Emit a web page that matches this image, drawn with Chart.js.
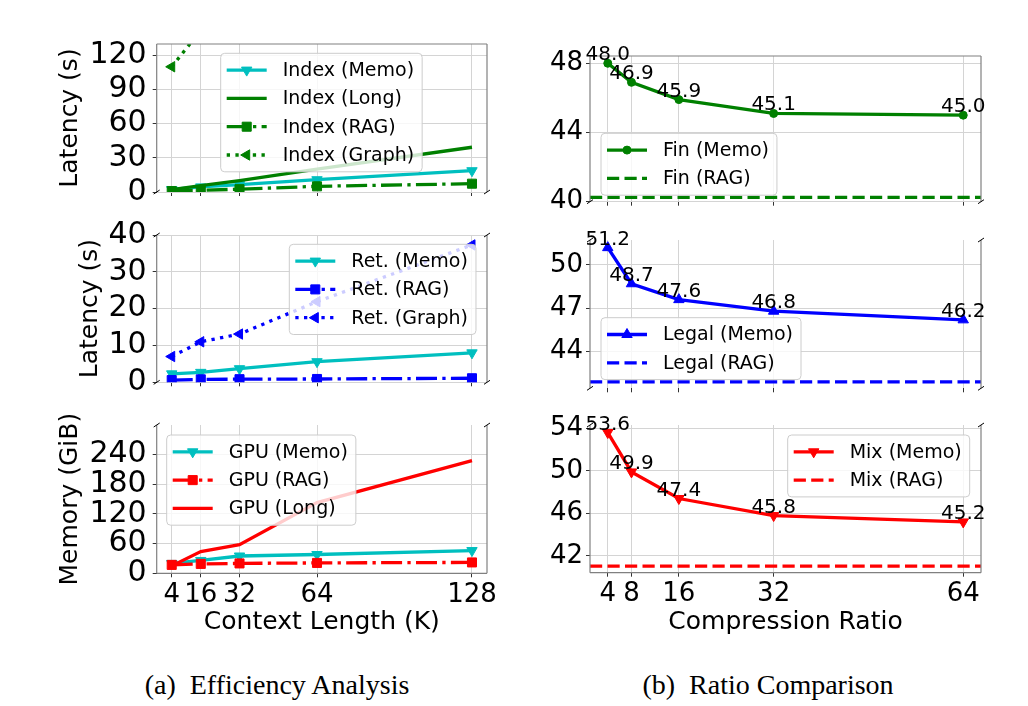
<!DOCTYPE html>
<html>
<head>
<meta charset="utf-8">
<script src="https://cdn.jsdelivr.net/npm/chart.js@4.4.1/dist/chart.umd.min.js"></script>
<style>
  body { margin: 0; background: #fff; width: 1028px; height: 706px; position: relative; overflow: hidden; }
  canvas { position: absolute; }
  .cap { position: absolute; top: 669px; font-family: "Liberation Serif", "DejaVu Serif", serif; font-size: 28px;
         color: #000; white-space: nowrap; transform: translateX(-50%); }
</style>
</head>
<body>
<canvas id="cIndex" width="480" height="190" style="left:40px;top:20px"></canvas>
<canvas id="cRet" width="480" height="185" style="left:40px;top:215px"></canvas>
<canvas id="cGpu" width="480" height="245" style="left:40px;top:405px"></canvas>
<canvas id="cFin" width="508" height="180" style="left:520px;top:30px"></canvas>
<canvas id="cLegal" width="508" height="185" style="left:520px;top:215px"></canvas>
<canvas id="cMix" width="508" height="245" style="left:520px;top:405px"></canvas>
<div class="cap" style="left:277px">(a)&ensp;Efficiency Analysis</div>
<div class="cap" style="left:768px">(b)&ensp;Ratio Comparison</div>

<script>
// ---- data ----
const CONTEXT_K   = [4, 16, 32, 64, 128];
const INDEX_MEMO  = [2.2, 4.5, 6.5, 10.8, 18.7];
const INDEX_LONG  = [2, 5.5, 10, 20, 39.3];
const INDEX_RAG   = [0.8, 1.5, 2.5, 5, 7.3];
const INDEX_GRAPH = [110, 142, 175, 240, 380];

const RET_MEMO  = [2.3, 2.7, 3.7, 5.6, 8.0];
const RET_RAG   = [0.6, 0.8, 0.85, 0.9, 1.1];
const RET_GRAPH = [7.0, 11.0, 13.1, 21.9, 37.3];

const GPU_MEMO = [20, 26, 35, 38, 46];
const GPU_RAG  = [17, 19, 20, 21, 22];
const GPU_LONG = [15, 44, 58, 143, 228];

const RATIO      = [4, 8, 16, 32, 64];
const FIN_MEMO   = [48.0, 46.9, 45.9, 45.1, 45.0];
const FIN_RAG    = 40.25;
const LEGAL_MEMO = [51.2, 48.7, 47.6, 46.8, 46.2];
const LEGAL_RAG  = 41.9;
const MIX_MEMO   = [53.6, 49.9, 47.4, 45.8, 45.2];
const MIX_RAG    = 41.05;

// axis limits and ticks
const X_CTX_LIM   = [-2.2, 134.2];
const X_RATIO_LIM = [1, 67];
const INDEX_YLIM = [0, 130],       INDEX_YTICKS = [0, 30, 60, 90, 120];
const RET_YLIM   = [0, 40],        RET_YTICKS   = [0, 10, 20, 30, 40];
const GPU_YLIM   = [0, 300],       GPU_YTICKS   = [0, 60, 120, 180, 240];
const FIN_YLIM   = [40, 48.42],    FIN_YTICKS   = [40, 44, 48];
const LEGAL_YLIM = [41.46, 51.73], LEGAL_YTICKS = [44, 47, 50];
const MIX_YLIM   = [40.43, 54.31], MIX_YTICKS   = [42, 46, 50, 54];

// ---- styles ----
const CYAN = '#00bfbf', GREEN = '#008000', BLUE = '#0000ff', RED = '#ff0000';
const GRID = '#d4d4d4', SPINE = '#808080', TICK = '#333';
const LW = 3.3;
const DASH = [12.2, 5.3], DASHDOT = [21, 5.3, 3.3, 5.3], DOTTED = [3.3, 5.4];
const FONT = '"DejaVu Sans", sans-serif';

Chart.defaults.font.family = FONT;
Chart.defaults.color = '#000';
Chart.defaults.animation = false;

const xy = (xs, ys) => xs.map((x, i) => ({ x, y: ys[i] }));
const flat = (lim, v) => lim.map(x => ({ x, y: v }));

function series(label, data, color, dash, marker, rot, radius) {
  return {
    label, data, borderColor: color, backgroundColor: color, borderWidth: LW,
    borderDash: dash || [], tension: 0, fill: false,
    pointStyle: marker || 'circle', pointRotation: rot || 0,
    pointRadius: marker ? radius : 0, pointHoverRadius: 0, pointBorderWidth: 1
  };
}

function drawMarker(ctx, style, rot, r, x, y, color) {
  ctx.save();
  ctx.setLineDash([]);
  ctx.fillStyle = color; ctx.strokeStyle = color; ctx.lineWidth = 1;
  ctx.beginPath();
  if (style === 'rect') {
    const s = r * Math.SQRT1_2;
    ctx.rect(x - s, y - s, 2 * s, 2 * s);
  } else if (style === 'triangle') {
    let a = rot * Math.PI / 180;
    for (let k = 0; k < 3; k++) {
      const px = x + Math.sin(a) * r, py = y - Math.cos(a) * r;
      k ? ctx.lineTo(px, py) : ctx.moveTo(px, py);
      a += 2 * Math.PI / 3;
    }
    ctx.closePath();
  } else {
    ctx.arc(x, y, r, 0, Math.PI * 2);
  }
  ctx.fill(); ctx.stroke();
  ctx.restore();
}

// matplotlib-like legend inside the axes
const insideLegend = {
  id: 'insideLegend',
  afterDraw(chart, args, opts) {
    const { ctx, chartArea } = chart;
    const items = chart.data.datasets;
    ctx.save();
    ctx.font = '19px ' + FONT;
    const tw = Math.max(...items.map(d => ctx.measureText(d.label).width));
    const bx = chartArea.left + opts.dx, by = chartArea.top + opts.dy;
    const bw = 62 + tw + 8, bh = 33.6 + (items.length - 1) * 28.3;
    ctx.beginPath();
    ctx.roundRect(bx, by, bw, bh, 4);
    ctx.fillStyle = 'rgba(255,255,255,0.8)';
    ctx.fill();
    ctx.strokeStyle = '#cccccc'; ctx.lineWidth = 1;
    ctx.stroke();
    items.forEach((d, i) => {
      const y = by + 16.8 + i * 28.3;
      ctx.save();
      ctx.setLineDash(d.borderDash);
      ctx.strokeStyle = d.borderColor; ctx.lineWidth = d.borderWidth;
      ctx.beginPath(); ctx.moveTo(bx + 6, y); ctx.lineTo(bx + 46, y); ctx.stroke();
      ctx.restore();
      if (d.pointRadius > 0) drawMarker(ctx, d.pointStyle, d.pointRotation, d.pointRadius, bx + 26, y, d.borderColor);
      ctx.fillStyle = '#000'; ctx.textBaseline = 'middle'; ctx.textAlign = 'left';
      ctx.fillText(d.label, bx + 62, y + 1);
    });
    ctx.restore();
  }
};

// spines, broken-axis marks and value labels
const decorations = {
  id: 'decorations',
  afterDatasetsDraw(chart, args, opts) {
    const { ctx, chartArea: a } = chart;
    ctx.save();
    ctx.strokeStyle = SPINE; ctx.lineWidth = 1.2; ctx.setLineDash([]);
    const seg = (x1, y1, x2, y2) => { ctx.beginPath(); ctx.moveTo(x1, y1); ctx.lineTo(x2, y2); ctx.stroke(); };
    opts.spines.forEach(s => {
      if (s === 'left') seg(a.left, a.top, a.left, a.bottom);
      if (s === 'right') seg(a.right, a.top, a.right, a.bottom);
      if (s === 'top') seg(a.left, a.top, a.right, a.top);
      if (s === 'bottom') seg(a.left, a.bottom, a.right, a.bottom);
    });
    ctx.strokeStyle = '#000'; ctx.lineWidth = 1;
    opts.breaks.forEach(s => {
      const y = s === 'top' ? a.top : a.bottom;
      [a.left, a.right].forEach(x => seg(x - 3, y + 2, x + 3, y - 2));
    });
    if (opts.values) {
      ctx.font = '20px ' + FONT; ctx.fillStyle = '#000';
      ctx.textAlign = 'center'; ctx.textBaseline = 'alphabetic';
      const meta = chart.getDatasetMeta(0);
      meta.data.forEach((pt, i) => {
        ctx.fillText(chart.data.datasets[0].data[i].y.toFixed(1), pt.x, pt.y - 3);
      });
    }
    ctx.restore();
  }
};

// fixed axis boxes, no extra room for overhanging edge labels
function fixBox(s, key, size) {
  s[key] = size;
  s.paddingTop = 0; s.paddingBottom = 0; s.paddingLeft = 0; s.paddingRight = 0;
}

function makePanel(id, o) {
  o.datasets.forEach((d, i) => { d.order = -i; });
  return new Chart(document.getElementById(id), {
    type: 'line',
    data: { datasets: o.datasets },
    plugins: [decorations, insideLegend],
    options: {
      responsive: false,
      devicePixelRatio: 1,
      layout: { padding: { top: o.pad[0], right: o.pad[1], bottom: 0, left: 0 } },
      plugins: {
        legend: { display: false },
        tooltip: { enabled: false },
        insideLegend: o.legend,
        decorations: { spines: o.spines, breaks: o.breaks, values: !!o.values }
      },
      scales: {
        x: {
          type: 'linear', min: o.xLim[0], max: o.xLim[1],
          afterBuildTicks: s => { s.ticks = o.xTicks.map(v => ({ value: v })); },
          afterFit: s => fixBox(s, 'height', o.xH),
          ticks: { display: !!o.xTitle, autoSkip: false, maxRotation: 0, font: { size: 26 }, padding: 2,
                   callback: v => String(v) },
          grid: { color: GRID, tickColor: TICK, tickLength: 4, lineWidth: 1 },
          border: { display: false },
          title: { display: !!o.xTitle, text: o.xTitle || '', font: { size: 25 }, padding: { top: 0, bottom: 13 } }
        },
        y: {
          type: 'linear', min: o.yLim[0], max: o.yLim[1],
          afterBuildTicks: s => { s.ticks = o.yTicks.map(v => ({ value: v })); },
          afterFit: s => fixBox(s, 'width', o.yW),
          ticks: { autoSkip: false, font: { size: o.yFont }, padding: o.yPad, callback: v => String(v) },
          grid: { color: GRID, tickColor: TICK, tickLength: 4, lineWidth: 1 },
          border: { display: false },
          title: { display: !!o.yTitle, text: o.yTitle || '', font: { size: 25 }, padding: { top: o.yTitlePad || 15, bottom: 0 } }
        }
      }
    }
  });
}

const LEFT = { xLim: X_CTX_LIM, xTicks: CONTEXT_K, yW: 116.7, yFont: 30, yPad: 6 };
const RIGHT = { xLim: X_RATIO_LIM, xTicks: RATIO, yW: 70, yFont: 26, yPad: 3, values: true };

makePanel('cIndex', Object.assign({}, LEFT, {
  yLim: INDEX_YLIM, yTicks: INDEX_YTICKS, yTitle: 'Latency (s)', pad: [24, 33], xH: 18,
  spines: ['left', 'right', 'top'], breaks: ['bottom'], legend: { dx: 64, dy: 9.3 },
  datasets: [
    series('Index (Memo)', xy(CONTEXT_K, INDEX_MEMO), CYAN, null, 'triangle', 180, 6),
    series('Index (Long)', xy(CONTEXT_K, INDEX_LONG), GREEN, null, null),
    series('Index (RAG)', xy(CONTEXT_K, INDEX_RAG), GREEN, DASHDOT, 'rect', 0, 6.4),
    series('Index (Graph)', xy(CONTEXT_K, INDEX_GRAPH), GREEN, DOTTED, 'triangle', 270, 6)
  ]
}));

makePanel('cRet', Object.assign({}, LEFT, {
  yLim: RET_YLIM, yTicks: RET_YTICKS, yTitle: 'Latency (s)', yTitlePad: 35, pad: [20, 33], xH: 17.7,
  spines: ['left', 'right'], breaks: ['top', 'bottom'], legend: { dx: 132.6, dy: 9.3 },
  datasets: [
    series('Ret. (Memo)', xy(CONTEXT_K, RET_MEMO), CYAN, null, 'triangle', 180, 6),
    series('Ret. (RAG)', xy(CONTEXT_K, RET_RAG), BLUE, DASHDOT, 'rect', 0, 6.4),
    series('Ret. (Graph)', xy(CONTEXT_K, RET_GRAPH), BLUE, DOTTED, 'triangle', 270, 6)
  ]
}));

makePanel('cGpu', Object.assign({}, LEFT, {
  yLim: GPU_YLIM, yTicks: GPU_YTICKS, yTitle: 'Memory (GiB)', xTitle: 'Context Length (K)', pad: [20, 33], xH: 76.7,
  spines: ['left', 'right', 'bottom'], breaks: ['top'], legend: { dx: 10, dy: 10 },
  datasets: [
    series('GPU (Memo)', xy(CONTEXT_K, GPU_MEMO), CYAN, null, 'triangle', 180, 6),
    series('GPU (RAG)', xy(CONTEXT_K, GPU_RAG), RED, DASHDOT, 'rect', 0, 6.4),
    series('GPU (Long)', xy(CONTEXT_K, GPU_LONG), RED, null, null)
  ]
}));

makePanel('cFin', Object.assign({}, RIGHT, {
  yLim: FIN_YLIM, yTicks: FIN_YTICKS, pad: [26, 47], xH: 8.3,
  spines: ['left', 'right', 'top'], breaks: ['bottom'], legend: { dx: 11, dy: 77.3 },
  datasets: [
    series('Fin (Memo)', xy(RATIO, FIN_MEMO), GREEN, null, 'circle', 0, 4),
    series('Fin (RAG)', flat(X_RATIO_LIM, FIN_RAG), GREEN, DASH, null)
  ]
}));

makePanel('cLegal', Object.assign({}, RIGHT, {
  yLim: LEGAL_YLIM, yTicks: LEGAL_YTICKS, pad: [25, 47], xH: 11.7,
  spines: ['left', 'right'], breaks: ['top', 'bottom'], legend: { dx: 11, dy: 77.7 },
  datasets: [
    series('Legal (Memo)', xy(RATIO, LEGAL_MEMO), BLUE, null, 'triangle', 0, 6),
    series('Legal (RAG)', flat(X_RATIO_LIM, LEGAL_RAG), BLUE, DASH, null)
  ]
}));

makePanel('cMix', Object.assign({}, RIGHT, {
  yLim: MIX_YLIM, yTicks: MIX_YTICKS, xTitle: 'Compression Ratio', pad: [20, 47], xH: 77.3,
  spines: ['left', 'right', 'bottom'], breaks: ['top'], legend: { dx: 197.7, dy: 10 },
  datasets: [
    series('Mix (Memo)', xy(RATIO, MIX_MEMO), RED, null, 'triangle', 180, 6),
    series('Mix (RAG)', flat(X_RATIO_LIM, MIX_RAG), RED, DASH, null)
  ]
}));
</script>
</body>
</html>
